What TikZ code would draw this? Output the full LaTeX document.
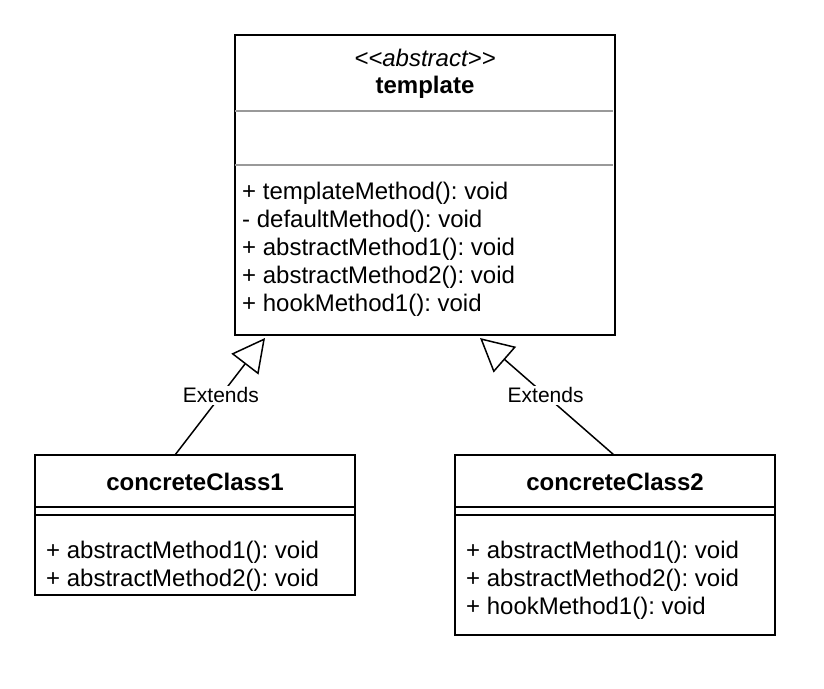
\documentclass[tikz,border=0pt]{standalone}
\usepackage{fontspec}
\setmainfont{Liberation Sans}
\usetikzlibrary{arrows.meta,calc}
\frenchspacing
\begin{document}
\begin{tikzpicture}[x=1pt,y=-1pt,
  classbox/.style={draw=black, line width=2pt, fill=white, inner sep=0pt, outer sep=0pt, anchor=north west},
  graysep/.style={draw=black!40, line width=2pt},
  blacksep/.style={draw=black, line width=2pt},
  member/.style={anchor=base west, inner sep=0pt, font=\fontsize{24}{28}\selectfont},
  classtitle/.style={anchor=base, inner sep=0pt, font=\fontsize{24}{28}\selectfont\bfseries},
  stereo/.style={anchor=base, inner sep=0pt, font=\fontsize{24}{28}\selectfont\itshape},
  extends/.style={line width=1.5pt, -{Triangle[open,length=33pt,width=34pt,line width=1.5pt]}},
  lbl/.style={fill=white, inner sep=2pt, font=\fontsize{21}{25}\selectfont}
]
\useasboundingbox (0,0) rectangle (824,688);

% abstract class
\node[classbox, minimum width=380pt, minimum height=300pt] (tpl) at (235,35) {};
\node[stereo] (tplstereo) at (425,66) {<\kern0pt<abstract>\kern0pt>};
\node[classtitle] (tplname) at (425,93) {template};
\draw[graysep] (235,111) -- (613,111);
\draw[graysep] (235,165) -- (613,165);
\node[member] (tm1) at (242,199) {+ templateMethod(): void};
\node[member] (tm2) at (242,227) {- defaultMethod(): void};
\node[member] (tm3) at (242,255) {+ abstractMethod1(): void};
\node[member] (tm4) at (242,283) {+ abstractMethod2(): void};
\node[member] (tm5) at (242,311) {+ hookMethod1(): void};

% first concrete class
\node[classbox, minimum width=320pt, minimum height=140pt] (c1) at (35,455) {};
\node[classtitle] (c1name) at (195,490) {concreteClass1};
\draw[blacksep] (35,507) -- (355,507);
\draw[blacksep] (35,515) -- (355,515);
\node[member] (c1m1) at (46,558) {+ abstractMethod1(): void};
\node[member] (c1m2) at (46,586) {+ abstractMethod2(): void};

% second concrete class
\node[classbox, minimum width=320pt, minimum height=180pt] (c2) at (455,455) {};
\node[classtitle] (c2name) at (615,490) {concreteClass2};
\draw[blacksep] (455,507) -- (775,507);
\draw[blacksep] (455,515) -- (775,515);
\node[member] (c2m1) at (466,558) {+ abstractMethod1(): void};
\node[member] (c2m2) at (466,586) {+ abstractMethod2(): void};
\node[member] (c2m3) at (466,614) {+ hookMethod1(): void};

% generalisation arrows
\draw[extends] ($(c1.north)+(-20,0)$) -- node[lbl, pos=0.51] (e1) {Extends} ($(tpl.south west)+(30,3)$);
\draw[extends] ($(c2.north)+(-1,0)$) -- node[lbl, pos=0.51] (e2) {Extends} ($(tpl.south)+(55,3)$);
\end{tikzpicture}
\end{document}
